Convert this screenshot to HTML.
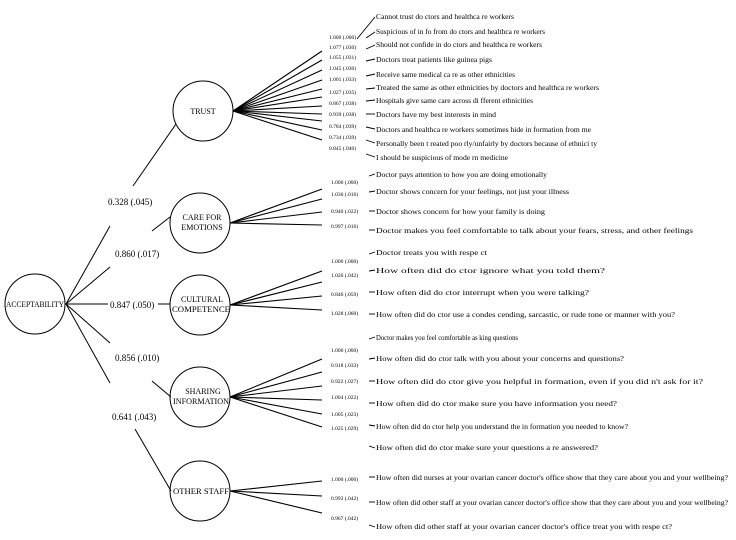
<!DOCTYPE html>
<html><head><meta charset="utf-8"><style>html,body{margin:0;padding:0;background:#fff}svg{display:block}</style></head>
<body>
<svg width="736" height="540" viewBox="0 0 736 540" xmlns="http://www.w3.org/2000/svg" font-family="Liberation Serif, serif" fill="#000">
<g stroke="#000" stroke-width="1" fill="none">
<circle cx="35" cy="304" r="30"/>
<circle cx="203" cy="111" r="30"/>
<circle cx="200" cy="223" r="30"/>
<circle cx="200" cy="305" r="30"/>
<circle cx="200" cy="397" r="30"/>
<circle cx="200" cy="491" r="30"/>
<!-- structural lines -->
<line x1="66" y1="304" x2="110" y2="226"/>
<line x1="133" y1="186" x2="176" y2="124"/>
<line x1="66" y1="304" x2="110" y2="267"/>
<line x1="152" y1="231" x2="170" y2="217"/>
<line x1="66" y1="304" x2="170" y2="304"/>
<line x1="66" y1="304" x2="110" y2="343"/>
<line x1="152" y1="381" x2="171" y2="397"/>
<line x1="66" y1="304" x2="110" y2="383"/>
<line x1="135" y1="429" x2="171" y2="491"/>
<!-- trust indicators -->
<g stroke-width="1.1">
<line x1="233" y1="111" x2="322" y2="51"/><line x1="233" y1="111" x2="322" y2="60"/>
<line x1="233" y1="111" x2="322" y2="70"/><line x1="233" y1="111" x2="322" y2="80"/>
<line x1="233" y1="111" x2="322" y2="89"/><line x1="233" y1="111" x2="322" y2="97"/>
<line x1="233" y1="111" x2="322" y2="106"/><line x1="233" y1="111" x2="322" y2="114"/>
<line x1="233" y1="111" x2="322" y2="121"/><line x1="233" y1="111" x2="322" y2="130"/>
<line x1="233" y1="111" x2="322" y2="140"/>
<line x1="230" y1="223" x2="322" y2="189"/><line x1="230" y1="223" x2="322" y2="199"/>
<line x1="230" y1="223" x2="322" y2="212"/><line x1="230" y1="223" x2="322" y2="225"/>
<line x1="230" y1="305" x2="322" y2="271"/><line x1="230" y1="305" x2="322" y2="282"/>
<line x1="230" y1="305" x2="322" y2="296"/><line x1="230" y1="305" x2="322" y2="310"/>
<line x1="230" y1="397" x2="322" y2="359"/><line x1="230" y1="397" x2="322" y2="372"/>
<line x1="230" y1="397" x2="322" y2="386"/><line x1="230" y1="397" x2="322" y2="400"/>
<line x1="230" y1="397" x2="322" y2="414"/><line x1="230" y1="397" x2="322" y2="427"/>
<line x1="230" y1="491" x2="322" y2="481"/><line x1="230" y1="491" x2="322" y2="496"/>
<line x1="230" y1="491" x2="322" y2="513"/>
</g>
<!-- ticks -->
<g stroke-width="0.9">
<line x1="357" y1="39" x2="375" y2="17"/>
<line x1="366" y1="38" x2="375" y2="32"/>
<line x1="366" y1="49" x2="375" y2="45"/>
<line x1="366" y1="61" x2="375" y2="59"/>
<line x1="366" y1="76" x2="375" y2="74"/>
<line x1="366" y1="89" x2="375" y2="88"/>
<line x1="366" y1="101" x2="375" y2="100"/>
<line x1="366" y1="114" x2="375" y2="114"/>
<line x1="366" y1="127" x2="375" y2="129"/>
<line x1="366" y1="140" x2="375" y2="143"/>
<line x1="366" y1="154" x2="375" y2="157"/>
<line x1="369" y1="176" x2="375" y2="174"/>
<line x1="369" y1="192" x2="375" y2="191"/>
<line x1="369" y1="211" x2="375" y2="211"/>
<line x1="369" y1="230" x2="375" y2="230"/>
<line x1="369" y1="254" x2="375" y2="252"/>
<line x1="369" y1="271" x2="375" y2="270"/>
<line x1="369" y1="292" x2="375" y2="292"/>
<line x1="369" y1="314" x2="375" y2="314"/>
<line x1="369" y1="339" x2="375" y2="337"/>
<line x1="369" y1="359" x2="375" y2="358"/>
<line x1="369" y1="381" x2="375" y2="381"/>
<line x1="369" y1="403" x2="375" y2="403"/>
<line x1="369" y1="425" x2="375" y2="426"/>
<line x1="369" y1="446" x2="375" y2="448"/>
<line x1="369" y1="477" x2="375" y2="477"/>
<line x1="369" y1="502" x2="375" y2="502"/>
<line x1="369" y1="525" x2="375" y2="527"/>
</g>
</g>
<!-- white boxes behind structural labels -->
<g fill="#fff">
<rect x="106" y="196" width="50" height="11"/>
<rect x="113" y="248" width="52" height="11"/>
<rect x="108" y="299" width="50" height="11"/>
<rect x="113" y="352" width="50" height="11"/>
<rect x="110" y="411" width="50" height="11"/>
</g>
<g font-size="9">
<text x="108" y="205">0.328 (.045)</text>
<text x="115" y="257">0.860 (.017)</text>
<text x="110" y="308">0.847 (.050)</text>
<text x="115" y="361">0.856 (.010)</text>
<text x="112" y="420">0.641 (.043)</text>
</g>
<g font-size="8" text-anchor="middle">
<text x="35" y="307" textLength="58" lengthAdjust="spacingAndGlyphs">ACCEPTABILITY</text>
<text x="203" y="114">TRUST</text>
<text x="202" y="220">CARE FOR</text>
<text x="202" y="230">EMOTIONS</text>
<text x="202" y="302">CULTURAL</text>
<text x="201" y="312" textLength="58" lengthAdjust="spacingAndGlyphs">COMPETENCE</text>
<text x="203" y="394">SHARING</text>
<text x="201" y="404" textLength="56" lengthAdjust="spacingAndGlyphs">INFORMATION</text>
<text x="201" y="494" textLength="56" lengthAdjust="spacingAndGlyphs">OTHER STAFF</text>
</g>
<g font-size="5.5">
<text x="329" y="39">1.000 (.000)</text><text x="329" y="49">1.077 (.030)</text>
<text x="329" y="59">1.055 (.031)</text><text x="329" y="70">1.045 (.030)</text>
<text x="329" y="81">1.001 (.033)</text><text x="329" y="94">1.027 (.035)</text>
<text x="329" y="105">0.867 (.038)</text><text x="329" y="116">0.939 (.038)</text>
<text x="329" y="128">0.784 (.039)</text><text x="329" y="139">0.734 (.039)</text>
<text x="329" y="150">0.845 (.040)</text>
<text x="331" y="184">1.000 (.000)</text><text x="331" y="196">1.036 (.016)</text>
<text x="331" y="213">0.940 (.022)</text><text x="331" y="228">0.997 (.016)</text>
<text x="331" y="263">1.000 (.000)</text><text x="331" y="277">1.026 (.042)</text>
<text x="331" y="296">0.846 (.059)</text><text x="331" y="315">1.028 (.060)</text>
<text x="331" y="352">1.000 (.000)</text><text x="331" y="367">0.918 (.033)</text>
<text x="331" y="383">0.922 (.027)</text><text x="331" y="399">1.004 (.022)</text>
<text x="331" y="416">1.005 (.023)</text><text x="331" y="430">1.025 (.029)</text>
<text x="331" y="481">1.000 (.000)</text><text x="331" y="500">0.993 (.042)</text>
<text x="331" y="520">0.967 (.042)</text>
</g>
<g font-size="7.5" lengthAdjust="spacingAndGlyphs">
<text x="376" y="19" textLength="138" lengthAdjust="spacingAndGlyphs">Cannot trust do ctors and healthca re workers</text>
<text x="376" y="34" textLength="169" lengthAdjust="spacingAndGlyphs">Suspicious of in fo from do ctors and healthca re workers</text>
<text x="376" y="47" textLength="166" lengthAdjust="spacingAndGlyphs">Should not confide in do ctors and healthca re workers</text>
<text x="376" y="62" textLength="116" lengthAdjust="spacingAndGlyphs">Doctors treat patients like guinea pigs</text>
<text x="376" y="77" textLength="139" lengthAdjust="spacingAndGlyphs">Receive same medical ca re as other ethnicities</text>
<text x="376" y="90" textLength="223" lengthAdjust="spacingAndGlyphs">Treated the same as other ethnicities    by doctors and healthca re workers</text>
<text x="376" y="103" textLength="157" lengthAdjust="spacingAndGlyphs">Hospitals give same care across di fferent ethnicities</text>
<text x="376" y="117" textLength="120" lengthAdjust="spacingAndGlyphs">Doctors have my best interests in mind</text>
<text x="376" y="132" textLength="215" lengthAdjust="spacingAndGlyphs">Doctors and healthca re workers sometimes hide in formation from me</text>
<text x="376" y="146" textLength="221" lengthAdjust="spacingAndGlyphs">Personally been t reated poo rly/unfairly by doctors because of ethnici ty</text>
<text x="376" y="160" textLength="132" lengthAdjust="spacingAndGlyphs">I should be suspicious of mode  rn medicine</text>
<text x="376" y="177" textLength="171" lengthAdjust="spacingAndGlyphs">Doctor pays attention to how you are doing emotionally</text>
<text x="376" y="194" textLength="193" lengthAdjust="spacingAndGlyphs">Doctor shows concern for your feelings, not just your illness</text>
<text x="376" y="214" textLength="169" lengthAdjust="spacingAndGlyphs">Doctor shows concern for how your family is doing</text>
<text x="376" y="233" textLength="317" lengthAdjust="spacingAndGlyphs">Doctor makes you feel comfortable to talk about your fears, stress, and other feelings</text>
<text x="376" y="255" textLength="111" lengthAdjust="spacingAndGlyphs">Doctor treats you with respe ct</text>
<text x="376" y="273" textLength="229" lengthAdjust="spacingAndGlyphs">How often did do ctor ignore what you told them?</text>
<text x="376" y="295" textLength="213" lengthAdjust="spacingAndGlyphs">How often did do ctor interrupt when you were talking?</text>
<text x="376" y="317" textLength="299" lengthAdjust="spacingAndGlyphs">How often did do ctor use a condes cending, sarcastic, or rude tone or manner with  you?</text>
<text x="376" y="340" textLength="142" lengthAdjust="spacingAndGlyphs">Doctor makes you feel comfortable as king questions</text>
<text x="376" y="361" textLength="248" lengthAdjust="spacingAndGlyphs">How often did do ctor talk with you about your concerns and questions?</text>
<text x="376" y="384" textLength="327" lengthAdjust="spacingAndGlyphs">How often did do ctor give you helpful in formation, even if you did n't ask for it?</text>
<text x="376" y="406" textLength="241" lengthAdjust="spacingAndGlyphs">How often did do ctor make sure you have information you need?</text>
<text x="376" y="429" textLength="252" lengthAdjust="spacingAndGlyphs">How often did do ctor help you understand the in  formation you needed  to know?</text>
<text x="376" y="450" textLength="222" lengthAdjust="spacingAndGlyphs">How often did do ctor make sure your questions a  re answered?</text>
<text x="376" y="480" textLength="352" lengthAdjust="spacingAndGlyphs">How often did nurses  at your ovarian cancer doctor's office show that they care about you and your wellbeing?</text>
<text x="376" y="505" textLength="352" lengthAdjust="spacingAndGlyphs">How often did other staff  at your ovarian cancer doctor's office show that they care about you and your wellbeing?</text>
<text x="376" y="529" textLength="296" lengthAdjust="spacingAndGlyphs">How often did other staff  at your ovarian cancer doctor's office treat you with respe ct?</text>
</g>
</svg>
</body></html>
